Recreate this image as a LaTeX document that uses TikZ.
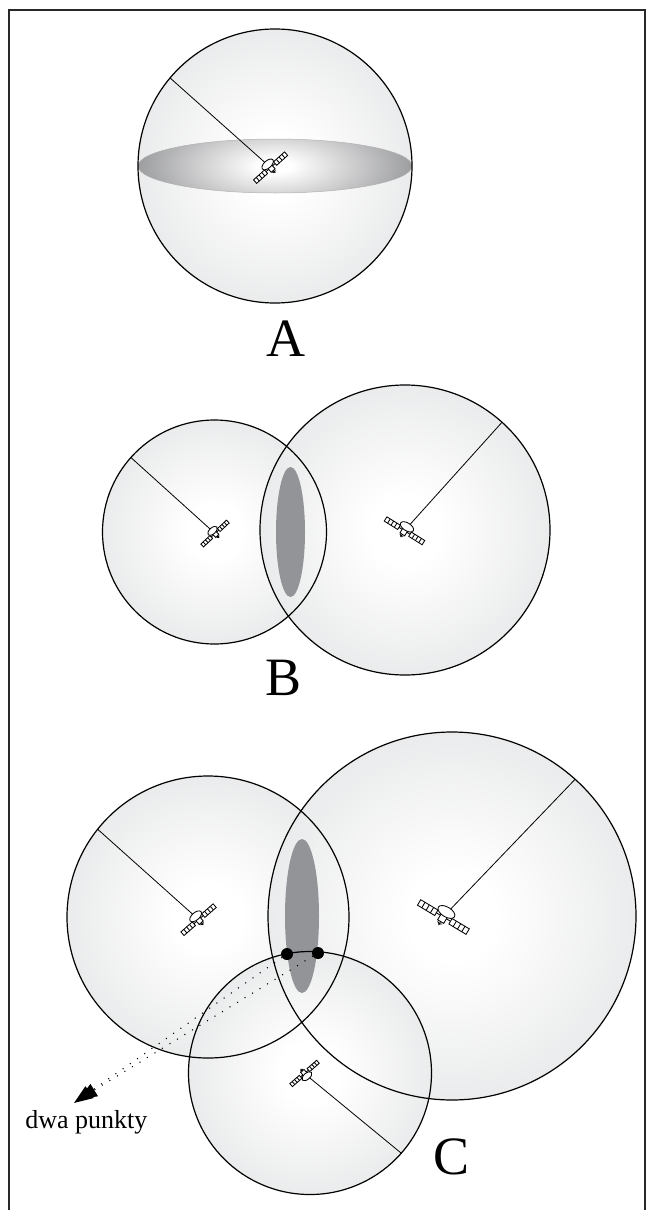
\documentclass[tikz,border=0pt]{standalone}
\usepackage{fontspec}
\setmainfont{Liberation Serif}
\usetikzlibrary{arrows.meta,calc}

\definecolor{sphedge}{RGB}{208,209,211}
\definecolor{sphmid}{RGB}{231,232,233}
\definecolor{eqdark}{RGB}{108,109,112}
\definecolor{lensgray}{RGB}{146,148,151}
\definecolor{framegray}{RGB}{40,40,40}

% soft sphere: white core fading to light grey at the rim
\pgfdeclareradialshading{sphereshade}{\pgfpoint{0bp}{0bp}}{%
  color(0bp)=(white); color(6bp)=(white); color(28bp)=(sphmid);
  color(50bp)=(sphedge); color(60bp)=(sphedge)}
% equatorial disc: white in the middle, darker toward the rim
\pgfdeclareradialshading{discshade}{\pgfpoint{0bp}{0bp}}{%
  color(0bp)=(white); color(3bp)=(white); color(36bp)=(eqdark); color(60bp)=(eqdark)}

\tikzset{
  sphereline/.style={line width=0.6pt, draw=black},
  radiusline/.style={line width=0.4pt, draw=black},
  satline/.style={line width=0.42pt, draw=black},
  frameline/.style={line width=0.65pt, draw=framegray},
  lensfill/.style={fill=lensgray, draw=none},
  letter/.style={font=\fontsize{27}{27}\selectfont, inner sep=0pt},
  note/.style={font=\fontsize{13}{13}\selectfont, inner sep=0pt},
  fixpoint/.style={circle, fill=black, inner sep=0pt, minimum size=6pt},
  dotline/.style={line width=0.75pt, line cap=round, dash pattern=on 0pt off 4.4pt,
    -{Triangle[length=9.5pt,width=7pt]}},
  satellite/.pic={
    \draw[satline] (-7,1) -- (7,1);
    \draw[satline,fill=white] (-24,-1.7) rectangle (-7,3.7);
    \draw[satline] (-19.75,-1.7) -- (-19.75,3.7) (-15.5,-1.7) -- (-15.5,3.7)
                   (-11.25,-1.7) -- (-11.25,3.7);
    \draw[satline,fill=white] (7,-1.7) rectangle (24,3.7);
    \draw[satline] (11.25,-1.7) -- (11.25,3.7) (15.5,-1.7) -- (15.5,3.7)
                   (19.75,-1.7) -- (19.75,3.7);
    \draw[satline,fill=white] (-3,-1) rectangle (3,5.5);
    \draw[satline] (0,5.5) -- (0,9) (-2.2,6.6) -- (0,8) -- (2.2,6.6);
    \draw[satline,fill=white] (0,-4) ellipse[x radius=8, y radius=4.2];
  }
}

\begin{document}
\begin{tikzpicture}[x=0.5pt,y=-0.5pt]
\useasboundingbox (0,0) rectangle (648,1210);

% open frame
\draw[frameline] (9,1220) -- (9,10) -- (645,10) -- (645,1220);

% ---------- A: one sphere ----------
\coordinate (cA) at (275,166);
\shade[shading=sphereshade] (cA) circle[radius=137];
\begin{scope}
  \clip (cA) ellipse[x radius=137, y radius=27];
  \shade[shading=discshade] (cA) ellipse[x radius=137, y radius=55];
\end{scope}
\draw[line width=0.25pt, draw=black!30] (cA) ellipse[x radius=137, y radius=27];
\draw[sphereline] (cA) circle[radius=137];
\coordinate (eA) at ($(cA)+(220:137)$);
\coordinate (sA) at (270,167);
\draw[radiusline] (sA) -- (eA);
\pic[rotate=42, scale=0.87] at (sA) {satellite};
\node[letter] (labA) at (286,339) {A};

% ---------- B: two spheres ----------
\coordinate (cB1) at (214.5,532);
\coordinate (cB2) at (405,530);
\shade[shading=sphereshade] (cB1) circle[radius=112];
\shade[shading=sphereshade] (cB2) circle[radius=145];
\fill[lensfill] (290.5,532) ellipse[x radius=14.5, y radius=65];
\draw[sphereline] (cB1) circle[radius=112];
\draw[sphereline] (cB2) circle[radius=145];
\coordinate (sB1) at (214.5,533);
\coordinate (sB2) at (405,530);
\coordinate (eB1) at ($(cB1)+(221.7:112)$);
\coordinate (eB2) at ($(cB2)+(312:145)$);
\draw[radiusline] (sB1) -- (eB1);
\draw[radiusline] (sB2) -- (eB2);
\pic[rotate=43, scale=0.73] at (sB1) {satellite};
\pic[rotate=-32, scale=0.93] at (sB2) {satellite};
\node[letter] (labB) at (284,678) {B};

% ---------- C: three spheres ----------
\coordinate (cC1) at (208,917);
\coordinate (cC2) at (452,916);
\coordinate (cC3) at (310,1073);
\shade[shading=sphereshade] (cC1) circle[radius=141];
\shade[shading=sphereshade] (cC2) circle[radius=184];
\shade[shading=sphereshade] (cC3) circle[radius=121.5];
\fill[lensfill] (302,916) ellipse[x radius=17, y radius=77];
\draw[sphereline] (cC1) circle[radius=141];
\draw[sphereline] (cC2) circle[radius=184];
\draw[sphereline] (cC3) circle[radius=121.5];
\coordinate (sC1) at (198,919);
\coordinate (sC2) at (444,916);
\coordinate (sC3) at (305,1074);
\coordinate (eC1) at ($(cC1)+(218.5:141)$);
\coordinate (eC2) at ($(cC2)+(312:184)$);
\coordinate (eC3) at ($(cC3)+(41.3:121.5)$);
\draw[radiusline] (sC1) -- (eC1);
\draw[radiusline] (sC2) -- (eC2);
\draw[radiusline] (sC3) -- (eC3);
\pic[rotate=41, scale=0.89] at (sC1) {satellite};
\pic[rotate=-31, scale=1.18] at (sC2) {satellite};
\pic[rotate=221, scale=0.74] at (sC3) {satellite};

% the two candidate positions and the pointer to their caption
\node[fixpoint] (p1) at (287,954) {};
\node[fixpoint] (p2) at (318,953) {};
\coordinate (tip1) at (74,1103);
\coordinate (tip2) at (78,1100);
\draw[dotline] (p1) -- (tip1);
\draw[dotline] (p2) -- (tip2);
\node[note, anchor=base west] (labD) at (25,1128) {dwa punkty};
\node[letter] (labC) at (452,1157) {C};
\end{tikzpicture}
\end{document}
